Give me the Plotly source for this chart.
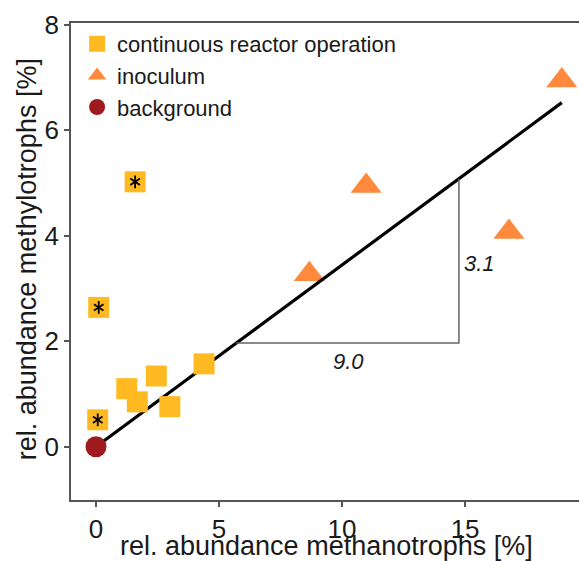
import plotly.graph_objects as go

# data
reactor_x = [0.07, 1.25, 1.68, 2.45, 3.0, 4.39, 0.11, 1.59]
reactor_y = [0.51, 1.10, 0.85, 1.34, 0.76, 1.57, 2.64, 5.02]
star_x = [0.07, 0.11, 1.59]
star_y = [0.51, 2.64, 5.02]
inoc_x = [8.67, 10.98, 16.78, 18.93]
inoc_y = [3.27, 4.94, 4.07, 6.94]
bg_x = [0.0]
bg_y = [0.0]
slope = 3.1 / 9.0
fit_x = [0.0, 18.93]
tri_x0, tri_x1 = 5.7, 14.75
run_label = "9.0"
rise_label = "3.1"
x_title = "rel. abundance methanotrophs [%]"
y_title = "rel. abundance methylotrophs [%]"

FONT = "Liberation Sans, Arial, sans-serif"
YEL = "#FFBA22"
ORA = "#FF8A3D"
RED = "#9E1A1E"
AX = "#555555"
TXT = "#1a1a1a"

fig = go.Figure()

fig.add_trace(go.Scatter(x=inoc_x, y=inoc_y, mode="markers", name="inoculum",
                         legendrank=2,
                         marker=dict(symbol="triangle-up", size=27, color=ORA, line=dict(width=0))))
fig.add_trace(go.Scatter(x=fit_x, y=[v * slope for v in fit_x], mode="lines", showlegend=False,
                         line=dict(color="black", width=3.2)))
# slope triangle
fig.add_trace(go.Scatter(x=[tri_x0, tri_x1, tri_x1], y=[tri_x0 * slope, tri_x0 * slope, tri_x1 * slope],
                         mode="lines", showlegend=False, line=dict(color="#666666", width=1.5)))
fig.add_trace(go.Scatter(x=reactor_x, y=reactor_y, mode="markers", name="continuous reactor operation",
                         legendrank=1,
                         marker=dict(symbol="square", size=21, color=YEL, line=dict(width=0))))
for sym in ["y-up-open", "y-down-open"]:
    fig.add_trace(go.Scatter(x=star_x, y=star_y, mode="markers", showlegend=False,
                             marker=dict(symbol=sym, size=8, color="black",
                                         line=dict(color="black", width=1.8))))
fig.add_trace(go.Scatter(x=bg_x, y=bg_y, mode="markers", name="background", legendrank=3,
                         marker=dict(symbol="circle", size=21, color=RED, line=dict(width=0))))

fig.add_annotation(x=(tri_x0 + tri_x1) / 2 + 0.05, y=tri_x0 * slope - 0.35, text="<i>%s</i>" % run_label,
                   showarrow=False, font=dict(family=FONT, size=22, color=TXT))
fig.add_annotation(x=tri_x1 + 0.85, y=3.48, text="<i>%s</i>" % rise_label,
                   showarrow=False, font=dict(family=FONT, size=22, color=TXT))
# axis titles
fig.add_annotation(xref="paper", yref="paper", x=0.503, y=-0.097, text=x_title, showarrow=False,
                   xanchor="center", yanchor="middle", font=dict(family=FONT, size=27, color=TXT))
fig.add_annotation(xref="paper", yref="paper", x=-0.0866, y=0.5046, text=y_title, showarrow=False,
                   textangle=-90, xanchor="center", yanchor="middle",
                   font=dict(family=FONT, size=27, color=TXT))

fig.update_layout(
    width=579, height=561,
    margin=dict(l=71, r=0, t=23, b=61, autoexpand=False),
    plot_bgcolor="white", paper_bgcolor="white",
    font=dict(family=FONT, color=TXT),
    legend=dict(x=0.012, y=1.0, xanchor="left", yanchor="top", bgcolor="rgba(0,0,0,0)",
                font=dict(family=FONT, size=22, color=TXT), tracegroupgap=0),
)
fig.update_xaxes(range=[-1.016, 19.63], tickvals=[0, 5, 10, 15], showgrid=False, zeroline=False,
                 showline=True, linecolor=AX, linewidth=1.5, mirror=True, automargin=False,
                 ticks="outside", ticklen=5, tickcolor=AX, tickwidth=1.5,
                 tickfont=dict(family=FONT, size=26, color=TXT))
fig.update_yaxes(range=[-1.01, 8.03], tickvals=[0, 2, 4, 6, 8], showgrid=False, zeroline=False,
                 showline=True, linecolor=AX, linewidth=1.5, automargin=False,
                 ticks="outside", ticklen=5, tickcolor=AX, tickwidth=1.5,
                 tickfont=dict(family=FONT, size=26, color=TXT))

fig.write_html("out.html", config={"displayModeBar": False},
               post_script="document.body.style.margin='0';document.body.style.overflow='hidden';")
